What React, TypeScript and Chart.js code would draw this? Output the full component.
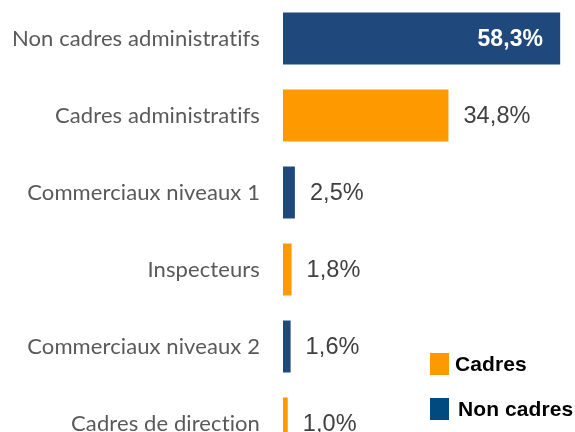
import React, { useEffect, useRef } from "react";
import { Chart, registerables } from "chart.js";

Chart.register(...registerables);

const categories = [
  "Non cadres administratifs",
  "Cadres administratifs",
  "Commerciaux niveaux 1",
  "Inspecteurs",
  "Commerciaux niveaux 2",
  "Cadres de direction",
];
const values = [58.3, 34.8, 2.5, 1.8, 1.6, 1.0];
const groups = ["Non cadres", "Cadres", "Non cadres", "Cadres", "Non cadres", "Cadres"];
const seriesNames = ["Cadres", "Non cadres"];
const barColors = ["#FF9900", "#1F497D"];
const legendColors = ["#FF9900", "#004A7F"];

const fmt = (v: number) => v.toFixed(1).replace(".", ",") + "%";

export default function App() {
  const ref = useRef<HTMLCanvasElement | null>(null);

  useEffect(() => {
    if (!ref.current) return;
    const datasets = seriesNames.map((name, si) => ({
      label: name,
      data: values.map((v, i) => (groups[i] === name ? v : null)),
      backgroundColor: barColors[si],
      borderWidth: 0,
      categoryPercentage: 1,
      barPercentage: 52 / 77,
    }));

    const noLigatures = {
      id: "noLigatures",
      beforeDraw(chart: any) {
        try {
          chart.ctx.letterSpacing = "0.1px";
        } catch (e) {
          /* ignore */
        }
      },
    };

    const labelPlugin = {
      id: "valueLabels",
      afterDatasetsDraw(chart: any) {
        const ctx = chart.ctx;
        ctx.save();
        chart.data.datasets.forEach((ds: any, di: number) => {
          const meta = chart.getDatasetMeta(di);
          meta.data.forEach((bar: any, i: number) => {
            const v = ds.data[i];
            if (v === null || v === undefined) return;
            const txt = fmt(v);
            const w = bar.x - bar.base;
            ctx.textBaseline = "middle";
            if (w > 220) {
              ctx.font = "bold 23px 'Liberation Sans', Arial, sans-serif";
              ctx.fillStyle = "#FFFFFF";
              ctx.textAlign = "right";
              ctx.fillText(txt, bar.x - 17, bar.y + 1);
            } else {
              ctx.font = "23.5px 'Liberation Sans', Arial, sans-serif";
              ctx.fillStyle = "#404040";
              ctx.textAlign = "left";
              ctx.fillText(txt, bar.x + 15, bar.y + 1);
            }
          });
        });
        // legend
        const lx = 430;
        const ly = [353, 398];
        const tx = [455, 458];
        chart.data.datasets.forEach((ds: any, di: number) => {
          ctx.fillStyle = legendColors[di];
          ctx.fillRect(lx, ly[di], 19, 22);
          ctx.font = "bold 21px 'Liberation Sans', Arial, sans-serif";
          ctx.fillStyle = "#000000";
          ctx.textAlign = "left";
          ctx.textBaseline = "middle";
          ctx.fillText(ds.label, tx[di], ly[di] + 12);
        });
        ctx.restore();
      },
    };

    const chart = new Chart(ref.current, {
      type: "bar",
      data: { labels: categories, datasets },
      options: {
        indexAxis: "y",
        responsive: false,
        animation: false,
        layout: { padding: { left: 0, right: 2, top: 0, bottom: 8 } },
        plugins: { legend: { display: false }, tooltip: { enabled: false } },
        scales: {
          x: { display: false, min: 0, max: 61, stacked: true },
          y: {
            stacked: true,
            grid: { display: false, drawTicks: false },
            border: { display: false },
            ticks: {
              padding: 23,
              color: "#595959",
              font: { family: "Lato, 'Open Sans', sans-serif", size: 22 },
            },
            afterFit: (scale: any) => {
              scale.width = 283;
              scale.paddingTop = 0;
              scale.paddingBottom = 0;
            },
          },
        },
      } as any,
      plugins: [noLigatures, labelPlugin],
    });
    return () => chart.destroy();
  }, []);

  return (
    <div style={{ position: "absolute", left: 0, top: 0, width: 575, height: 470, overflow: "hidden" }}>
      <canvas ref={ref} width={575} height={470} style={{ display: "block" }} />
    </div>
  );
}
